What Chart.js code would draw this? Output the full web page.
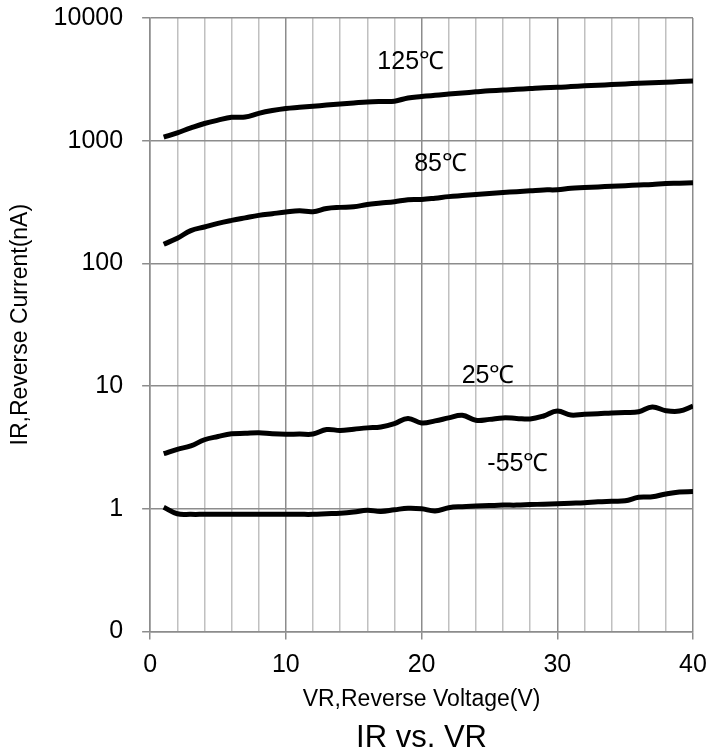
<!DOCTYPE html>
<html>
<head>
<meta charset="utf-8">
<script src="https://cdn.jsdelivr.net/npm/chart.js@4"></script>
<style>
  html, body { margin: 0; padding: 0; background: #fff; }
  #wrap { width: 726px; height: 754px; }
</style>
</head>
<body>
<div id="wrap"><canvas id="irChart"></canvas></div>
<script>
// reverse voltage, V
const voltages = [1,2,3,4,5,6,7,8,9,10,11,12,13,14,15,16,17,18,19,20,21,22,23,24,25,26,27,28,29,30,31,32,33,34,35,36,37,38,39,40];

// reverse current, nA
const ir125 = [1070,1160,1270,1380,1470,1550,1560,1670,1760,1830,1870,1910,1950,1990,2030,2070,2090,2100,2230,2290,
               2350,2400,2450,2500,2550,2590,2620,2660,2700,2720,2760,2800,2830,2870,2900,2940,2970,3000,3030,3060];
const ir85 = [143,160,185,198,212,224,235,246,254,262,268,264,280,286,289,302,310,318,330,332,
              340,350,357,364,371,378,384,390,397,398,410,415,420,425,430,435,440,447,450,454];
const ir25 = [2.81,3.05,3.25,3.65,3.88,4.08,4.12,4.17,4.08,4.04,4.06,4.06,4.42,4.35,4.45,4.56,4.64,4.94,5.45,5.0,
              5.2,5.5,5.78,5.26,5.35,5.5,5.45,5.39,5.7,6.25,5.8,5.9,5.95,6.03,6.08,6.17,6.75,6.3,6.25,6.86];
const irM55 = [1.03,0.91,0.90,0.90,0.90,0.90,0.90,0.90,0.90,0.90,0.90,0.90,0.91,0.92,0.94,0.97,0.95,0.98,1.01,1.0,
               0.96,1.02,1.04,1.05,1.06,1.07,1.07,1.08,1.09,1.10,1.11,1.12,1.14,1.15,1.16,1.24,1.25,1.32,1.37,1.38];

const yTicks = [0.1, 1, 10, 100, 1000, 10000];

// curve labels, placed in data coordinates
const curveLabels = ['125℃', '85℃', '25℃', '-55℃'];
const labelX = [19.2, 21.4, 24.9, 27.1];
const labelY = [4375, 644, 12.0, 2.29];

const chartTitle = 'IR vs. VR';

const FONT = '"Liberation Sans", Arial, sans-serif';

const toPoints = (vals) => vals.map((v, i) => ({ x: voltages[i], y: v }));

const curveLabelPlugin = {
  id: 'curveLabels',
  afterDatasetsDraw(chart) {
    const { ctx, scales } = chart;
    ctx.save();
    ctx.font = '25px ' + FONT;
    ctx.fillStyle = '#000';
    ctx.textAlign = 'center';
    ctx.textBaseline = 'middle';
    curveLabels.forEach((t, i) => {
      ctx.fillText(t, scales.x.getPixelForValue(labelX[i]), scales.y.getPixelForValue(labelY[i]));
    });
    ctx.restore();
  }
};

// title under the plot, centred on the plot area
const bottomTitlePlugin = {
  id: 'bottomTitle',
  afterDraw(chart) {
    const { ctx, chartArea } = chart;
    ctx.save();
    ctx.font = '31px ' + FONT;
    ctx.fillStyle = '#000';
    ctx.textAlign = 'center';
    ctx.textBaseline = 'alphabetic';
    ctx.fillText(chartTitle, (chartArea.left + chartArea.right) / 2, chart.height - 7);
    ctx.restore();
  }
};

const lineStyle = {
  borderColor: '#000',
  borderWidth: 5,
  pointRadius: 0,
  tension: 0.4,
  fill: false
};

new Chart(document.getElementById('irChart'), {
  type: 'line',
  data: {
    datasets: [
      { label: '125℃', data: toPoints(ir125), ...lineStyle },
      { label: '85℃', data: toPoints(ir85), ...lineStyle },
      { label: '25℃', data: toPoints(ir25), ...lineStyle },
      { label: '-55℃', data: toPoints(irM55), ...lineStyle }
    ]
  },
  options: {
    responsive: true,
    maintainAspectRatio: false,
    animation: false,
    layout: { padding: { top: 0, right: 33, bottom: 41, left: 4 } },
    plugins: {
      legend: { display: false },
      tooltip: { enabled: false },
      title: { display: false }
    },
    scales: {
      x: {
        type: 'linear',
        min: 0,
        max: 40,
        ticks: {
          stepSize: 2,
          autoSkip: false,
          maxRotation: 0,
          padding: 11,
          color: '#000',
          font: { family: FONT, size: 25 },
          callback: (v) => (v % 10 === 0 ? v : '')
        },
        grid: {
          color: (c) => (c.tick && c.tick.value % 10 === 0 ? '#8c8c8c' : '#c0c0c0'),
          lineWidth: 1.5,
          tickColor: (c) => (c.tick && c.tick.value % 10 === 0 ? '#8c8c8c' : 'rgba(0,0,0,0)'),
          tickLength: 8
        },
        border: { color: '#8c8c8c', width: 1.5 },
        title: {
          display: true,
          text: 'VR,Reverse Voltage(V)',
          color: '#000',
          font: { family: FONT, size: 23 },
          padding: { top: -6, bottom: 0 }
        }
      },
      y: {
        type: 'logarithmic',
        min: 0.1,
        max: 10000,
        afterBuildTicks: (scale) => { scale.ticks = yTicks.map((v) => ({ value: v })); },
        // the label gap should not push the plot top down so far
        afterFit: (scale) => {
          scale.paddingTop = Math.max(0, scale.paddingTop - scale.options.ticks.padding + 3);
          scale.paddingBottom = Math.max(0, scale.paddingBottom - scale.options.ticks.padding);
        },
        ticks: {
          color: '#000',
          padding: 19,
          font: { family: FONT, size: 25 },
          callback: (v) => (v === 0.1 ? '0' : String(v))
        },
        grid: { color: '#8c8c8c', lineWidth: 1.5, tickLength: 8 },
        border: { color: '#8c8c8c', width: 1.5 },
        title: {
          display: true,
          text: 'IR,Reverse Current(nA)',
          color: '#000',
          font: { family: FONT, size: 23 },
          padding: { top: 3, bottom: 0 }
        }
      }
    }
  },
  plugins: [curveLabelPlugin, bottomTitlePlugin]
});
</script>
</body>
</html>
